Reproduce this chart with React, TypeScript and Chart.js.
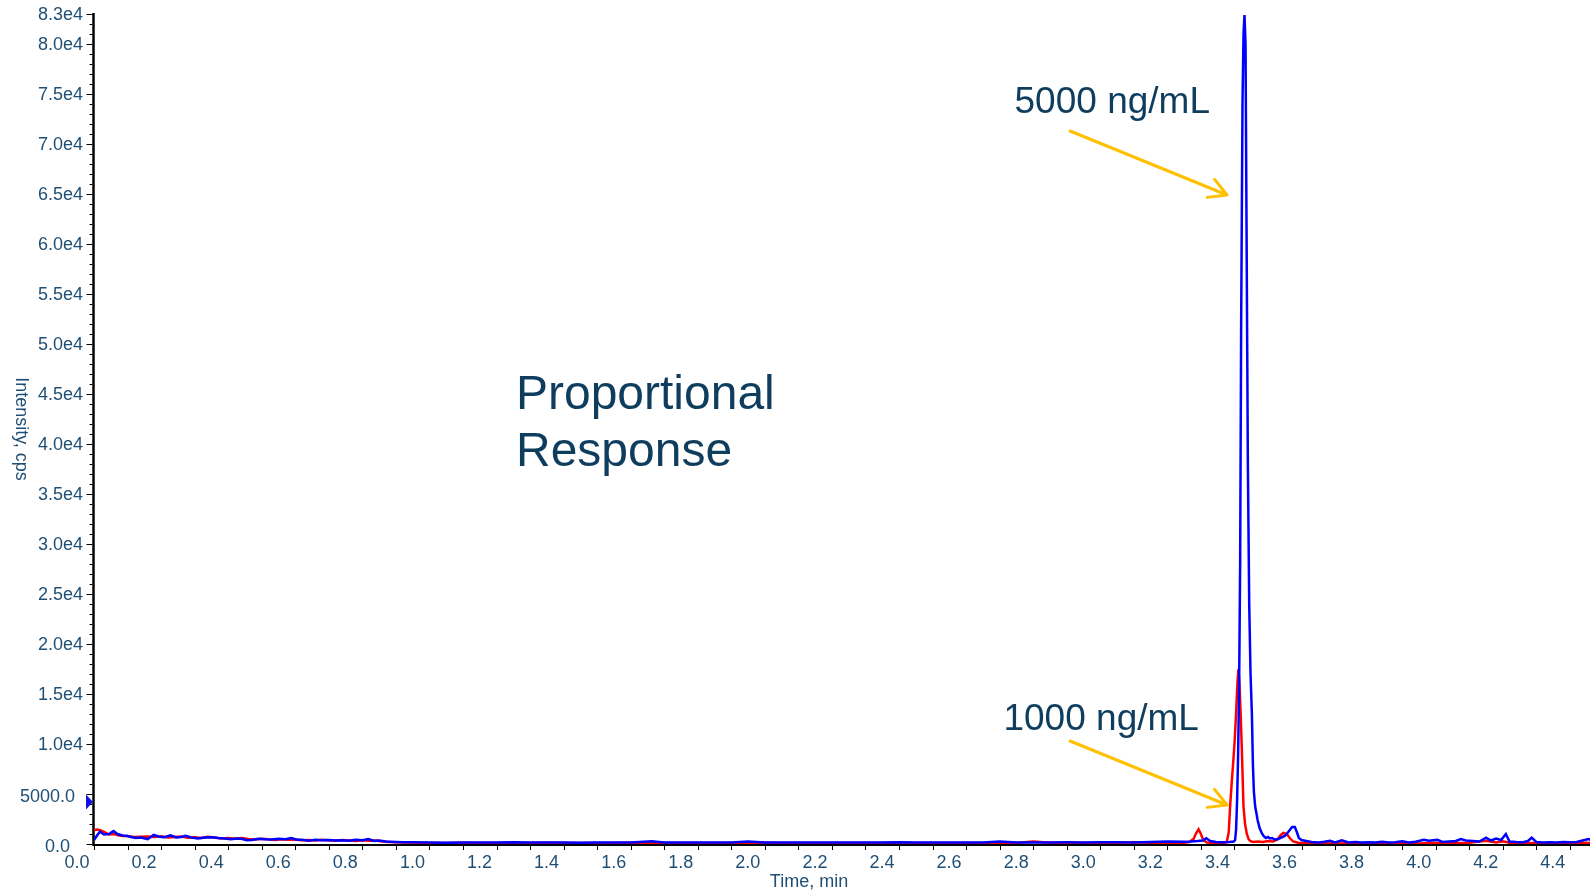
import React, { useEffect, useRef } from "react";
import { Chart, registerables } from "chart.js";

Chart.register(...registerables);

// ---------- data (time in min, intensity in cps) ----------
const blueTime = [
  0.000, 0.010, 0.018, 0.030, 0.045, 0.058, 0.070, 0.085, 0.098, 0.110, 0.125, 0.140, 0.160, 0.178, 0.195, 0.210,
  0.228, 0.245, 0.260, 0.273, 0.290, 0.310, 0.330, 0.350, 0.370, 0.390, 0.408, 0.425, 0.440, 0.455, 0.470, 0.490,
  0.510, 0.530, 0.550, 0.570, 0.588, 0.605, 0.620, 0.640, 0.660, 0.680, 0.700, 0.720, 0.740, 0.760, 0.780, 0.800,
  0.818, 0.835, 0.850, 0.870, 0.885, 0.900, 0.920, 0.950,
  1.00, 1.05, 1.10, 1.15, 1.20, 1.25, 1.30, 1.35, 1.40, 1.45, 1.50, 1.55, 1.60, 1.663, 1.70, 1.75, 1.80, 1.85, 1.90,
  1.95, 2.00, 2.05, 2.10, 2.15, 2.20, 2.25, 2.30, 2.35, 2.40, 2.45, 2.50, 2.55, 2.60, 2.65, 2.70, 2.75, 2.80, 2.85,
  2.90, 2.95, 3.00, 3.05, 3.10, 3.15, 3.20, 3.25,
  3.270, 3.290, 3.305, 3.316, 3.328, 3.345, 3.365, 3.385, 3.398, 3.402, 3.405, 3.408, 3.411, 3.414, 3.417, 3.420,
  3.424, 3.427, 3.430, 3.433, 3.436, 3.440, 3.444, 3.448, 3.452, 3.455, 3.458, 3.462, 3.466, 3.469, 3.475, 3.482,
  3.488, 3.494, 3.500, 3.506, 3.512, 3.520, 3.530, 3.540, 3.550, 3.558, 3.565, 3.572, 3.580, 3.586, 3.592, 3.600,
  3.610,
  3.630, 3.650, 3.668, 3.685, 3.700, 3.720, 3.740, 3.760, 3.780, 3.800, 3.820, 3.840, 3.860, 3.880, 3.900, 3.920,
  3.940, 3.965, 3.980, 4.005, 4.020, 4.040, 4.060, 4.075, 4.090, 4.110, 4.130, 4.150, 4.165, 4.180, 4.195, 4.209,
  4.220, 4.240, 4.260, 4.275, 4.286, 4.300, 4.320, 4.340, 4.360, 4.380, 4.400, 4.420, 4.435, 4.455, 4.470,
];
const blueIntensity = [
  400, 900, 1230, 950, 1000, 1300, 1000, 850, 830, 700, 600, 650, 480, 900, 720, 680,
  870, 650, 700, 830, 650, 560, 650, 670, 600, 550, 470, 550, 530, 380, 400, 520,
  470, 440, 520, 480, 600, 420, 430, 330, 420, 380, 400, 350, 380, 330, 420, 380,
  500, 300, 360, 250, 220, 200, 180, 170,
  150, 130, 160, 140, 150, 170, 140, 150, 160, 130, 150, 140, 160, 280, 150, 140, 160, 150, 140,
  250, 150, 140, 150, 160, 150, 140, 160, 150, 170, 140, 150, 160, 150, 140, 240, 150, 160, 150,
  170, 160, 180, 170, 160, 200, 250, 220,
  250, 300, 350, 570, 300, 200, 180, 200, 250, 400, 1500, 4500, 9000, 16000, 28000, 52000,
  74000, 81000, 82900, 80000, 62000, 38000, 24000, 17000, 13000, 8000, 5200, 3700, 3000, 2400, 1600, 1050,
  750, 600, 700, 550, 600, 450, 500, 650, 800, 1100, 1400, 1700, 1700, 1200, 600, 400,
  330,
  200, 150, 220, 330, 150, 380, 150, 200, 150, 180, 150, 220, 150, 170, 280, 150,
  220, 430, 330, 430, 200, 250, 300, 500, 350, 300, 250, 630, 350, 550, 400, 1000,
  250, 200, 180, 300, 630, 200, 150, 180, 150, 200, 170, 200, 330, 500, 300,
];

const redTime = [
  0.000, 0.010, 0.020, 0.030, 0.045, 0.060, 0.075, 0.090, 0.105, 0.120, 0.140, 0.160, 0.180, 0.200, 0.220, 0.240,
  0.260, 0.280, 0.300, 0.320, 0.340, 0.360, 0.380, 0.400, 0.420, 0.440, 0.460, 0.480, 0.500, 0.520, 0.540, 0.560,
  0.580, 0.600, 0.620, 0.640, 0.660, 0.680, 0.700, 0.720, 0.740, 0.760, 0.780, 0.800, 0.820, 0.840, 0.860, 0.880,
  0.900, 0.930,
  1.00, 1.05, 1.10, 1.15, 1.20, 1.25, 1.30, 1.35, 1.40, 1.45, 1.50, 1.55, 1.60, 1.65, 1.70, 1.75, 1.80, 1.85, 1.90,
  1.95, 2.00, 2.05, 2.10, 2.15, 2.20, 2.25, 2.30, 2.35, 2.40, 2.45, 2.50, 2.55, 2.60, 2.65, 2.70, 2.75, 2.80, 2.85,
  2.90, 2.95, 3.00, 3.05, 3.10, 3.15, 3.20, 3.25,
  3.265, 3.278, 3.286, 3.293, 3.300, 3.307, 3.318, 3.335, 3.355, 3.370, 3.377, 3.383, 3.387, 3.392, 3.397, 3.401,
  3.405, 3.409, 3.412, 3.415, 3.419, 3.422, 3.427, 3.432, 3.437, 3.442, 3.447, 3.455, 3.470, 3.485, 3.500, 3.515,
  3.528, 3.538, 3.546, 3.556, 3.565, 3.575, 3.590,
  3.61, 3.65, 3.70, 3.75, 3.80, 3.85, 3.90, 3.95, 4.00, 4.05, 4.10, 4.15, 4.18, 4.20, 4.22, 4.25, 4.30, 4.35, 4.40,
  4.45, 4.47,
];
const redIntensity = [
  1400, 1450, 1350, 1200, 950, 1000, 850, 800, 780, 700, 720, 750, 700, 780, 650, 700,
  750, 620, 680, 600, 720, 650, 560, 600, 520, 600, 500, 450, 520, 480, 400, 480,
  420, 450, 380, 400, 350, 420, 380, 330, 400, 360, 300, 380, 330, 350, 250, 200,
  180, 150,
  110, 90, 120, 100, 110, 90, 100, 120, 100, 90, 110, 100, 120, 100, 90, 110, 100, 90, 110,
  100, 120, 100, 90, 110, 100, 90, 110, 100, 120, 90, 100, 110, 100, 90, 110, 100, 250, 120,
  150, 100, 130, 110, 180, 120, 150, 130,
  200, 500, 1100, 1470, 1000, 400, 150, 120, 100, 120, 180, 1200, 3700, 6200, 8500, 10500,
  13200, 16200, 17500, 16000, 12500, 9500, 3700, 1900, 1000, 500, 300, 200, 250, 200, 300, 250,
  450, 900, 1100, 1000, 600, 250, 120,
  100, 80, 60, 80, 60, 70, 90, 60, 120, 80, 130, 330, 150, 280, 120, 80, 100, 60, 90,
  120, 100,
];

// ---------- axes ----------
const xMin = 0;
const xMax = 4.46;
const yMin = 0;
const yMax = 83000;
const xTickValues = [0, 0.2, 0.4, 0.6, 0.8, 1.0, 1.2, 1.4, 1.6, 1.8, 2.0, 2.2, 2.4, 2.6, 2.8, 3.0, 3.2, 3.4, 3.6, 3.8, 4.0, 4.2, 4.4];
const xTickLabels = ["0.0", "0.2", "0.4", "0.6", "0.8", "1.0", "1.2", "1.4", "1.6", "1.8", "2.0", "2.2", "2.4", "2.6", "2.8", "3.0", "3.2", "3.4", "3.6", "3.8", "4.0", "4.2", "4.4"];
const xMinorStep = 0.1;
const yTickValues = [0, 5000, 10000, 15000, 20000, 25000, 30000, 35000, 40000, 45000, 50000, 55000, 60000, 65000, 70000, 75000, 80000, 83000];
const yTickLabels = ["0.0", "5000.0", "1.0e4", "1.5e4", "2.0e4", "2.5e4", "3.0e4", "3.5e4", "4.0e4", "4.5e4", "5.0e4", "5.5e4", "6.0e4", "6.5e4", "7.0e4", "7.5e4", "8.0e4", "8.3e4"];
const yMinorStep = 1000;
const xTitle = "Time, min";
const yTitle = "Intensity, cps";
const thresholdMarker = 4200;

// ---------- annotations ----------
const mainText = ["Proportional", "Response"];
const label5000 = "5000 ng/mL";
const label1000 = "1000 ng/mL";

const FONT = "'Liberation Sans', Arial, Helvetica, sans-serif";
const TICK_COLOR = "#1f4f75";
const NOTE_COLOR = "#0f3d5e";
const ARROW_COLOR = "#FFC000";

function drawArrow(ctx: CanvasRenderingContext2D, x1: number, y1: number, x2: number, y2: number) {
  const ang = Math.atan2(y2 - y1, x2 - x1);
  const len = 20;
  const spread = (29 * Math.PI) / 180;
  ctx.beginPath();
  ctx.moveTo(x1, y1);
  ctx.lineTo(x2, y2);
  ctx.moveTo(x2 - len * Math.cos(ang - spread), y2 - len * Math.sin(ang - spread));
  ctx.lineTo(x2, y2);
  ctx.lineTo(x2 - len * Math.cos(ang + spread), y2 - len * Math.sin(ang + spread));
  ctx.stroke();
}

const axesPlugin = {
  id: "chromAxes",
  beforeDatasetsDraw(chart: any) {
    const ctx: CanvasRenderingContext2D = chart.ctx;
    const { left, right, top, bottom } = chart.chartArea;
    ctx.save();
    ctx.strokeStyle = "#000";
    ctx.lineWidth = 2.5;
    ctx.beginPath();
    ctx.moveTo(left - 0.5, top - 1);
    ctx.lineTo(left - 0.5, bottom + 2);
    ctx.stroke();
    ctx.lineWidth = 2;
    ctx.beginPath();
    ctx.moveTo(left - 1, bottom + 1);
    ctx.lineTo(right, bottom + 1);
    ctx.stroke();
    ctx.restore();
  },
  afterDatasetsDraw(chart: any) {
    const ctx: CanvasRenderingContext2D = chart.ctx;
    const xs = chart.scales.x;
    const ys = chart.scales.y;
    const { left, bottom } = chart.chartArea;
    ctx.save();

    // y minor & major ticks
    ctx.strokeStyle = "#000";
    ctx.lineWidth = 1;
    for (let v = yMin; v <= yMax + 1; v += yMinorStep) {
      const y = Math.round(ys.getPixelForValue(v)) + 0.5;
      const major = v % 5000 === 0 || v === yMax;
      ctx.beginPath();
      ctx.moveTo(left - 1.5 - (major ? 6 : 3), y);
      ctx.lineTo(left - 1.5, y);
      ctx.stroke();
    }
    // x ticks
    for (let i = 0; xMin + i * xMinorStep <= xMax; i++) {
      const x = Math.round(xs.getPixelForValue(xMin + i * xMinorStep)) + 0.5;
      ctx.beginPath();
      ctx.moveTo(x, bottom + 1);
      ctx.lineTo(x, bottom + 6);
      ctx.stroke();
    }

    // y labels
    ctx.fillStyle = TICK_COLOR;
    ctx.font = `18px ${FONT}`;
    ctx.textAlign = "right";
    ctx.textBaseline = "middle";
    yTickValues.forEach((v, i) => {
      const y = ys.getPixelForValue(v);
      let xr = left - 11;
      let dy = 1;
      if (v === 0) { xr = left - 24; dy = 3; }
      if (v === 5000) { xr = left - 19; dy = 3; }
      ctx.fillText(yTickLabels[i], xr, y + dy);
    });

    // x labels
    ctx.textAlign = "center";
    ctx.textBaseline = "alphabetic";
    xTickValues.forEach((v, i) => {
      const x = xs.getPixelForValue(v);
      ctx.fillText(xTickLabels[i], x - 17, bottom + 24);
    });

    // axis titles
    ctx.fillText(xTitle, 809, bottom + 43);
    ctx.save();
    ctx.translate(16, 429);
    ctx.rotate(Math.PI / 2);
    ctx.textAlign = "center";
    ctx.textBaseline = "alphabetic";
    ctx.fillText(yTitle, 0, 0);
    ctx.restore();

    // threshold marker
    const ty = ys.getPixelForValue(thresholdMarker);
    ctx.fillStyle = "#1010e0";
    ctx.beginPath();
    ctx.moveTo(left - 8, ty - 7.5);
    ctx.lineTo(left - 1, ty);
    ctx.lineTo(left - 8, ty + 7.5);
    ctx.closePath();
    ctx.fill();

    // annotation texts
    ctx.fillStyle = NOTE_COLOR;
    ctx.font = `48px ${FONT}`;
    ctx.textAlign = "left";
    ctx.fillText(mainText[0], xs.getPixelForValue(1.258), ys.getPixelForValue(43500));
    ctx.fillText(mainText[1], xs.getPixelForValue(1.258), ys.getPixelForValue(37800));

    ctx.font = `37px ${FONT}`;
    ctx.textAlign = "right";
    ctx.fillText(label5000, xs.getPixelForValue(3.327), ys.getPixelForValue(73100));
    ctx.fillText(label1000, xs.getPixelForValue(3.294), ys.getPixelForValue(11400));

    // arrows
    ctx.strokeStyle = ARROW_COLOR;
    ctx.lineWidth = 3;
    ctx.lineCap = "round";
    ctx.lineJoin = "round";
    drawArrow(ctx, xs.getPixelForValue(2.91), ys.getPixelForValue(71300), xs.getPixelForValue(3.378), ys.getPixelForValue(64900));
    drawArrow(ctx, xs.getPixelForValue(2.91), ys.getPixelForValue(10300), xs.getPixelForValue(3.378), ys.getPixelForValue(3900));

    ctx.restore();
  },
};

export default function App() {
  const canvasRef = useRef<HTMLCanvasElement | null>(null);

  useEffect(() => {
    document.body.style.margin = "0";
    const canvas = canvasRef.current;
    if (!canvas) return;
    const chart = new Chart(canvas, {
      type: "line",
      data: {
        datasets: [
          {
            label: "5000 ng/mL",
            data: blueTime.map((t, i) => ({ x: t, y: blueIntensity[i] })),
            borderColor: "#0000ff",
            borderWidth: 2.5,
            pointRadius: 0,
            tension: 0,
            fill: false,
            order: 0,
          },
          {
            label: "1000 ng/mL",
            data: redTime.map((t, i) => ({ x: t, y: redIntensity[i] })),
            borderColor: "#ff0000",
            borderWidth: 2.5,
            pointRadius: 0,
            tension: 0,
            fill: false,
            order: 1,
          },
        ],
      },
      options: {
        responsive: false,
        animation: false,
        devicePixelRatio: 1,
        layout: { padding: { left: 94, top: 14, right: 0, bottom: 49 } },
        plugins: { legend: { display: false }, tooltip: { enabled: false } },
        events: [],
        scales: {
          x: { type: "linear", min: xMin, max: xMax, display: false },
          y: { type: "linear", min: yMin, max: yMax, display: false },
        },
      },
      plugins: [axesPlugin],
    });
    return () => chart.destroy();
  }, []);

  return (
    <div style={{ position: "absolute", left: 0, top: 0, width: 1590, height: 893, background: "#fff" }}>
      <canvas ref={canvasRef} width={1590} height={893} style={{ display: "block" }} />
    </div>
  );
}
